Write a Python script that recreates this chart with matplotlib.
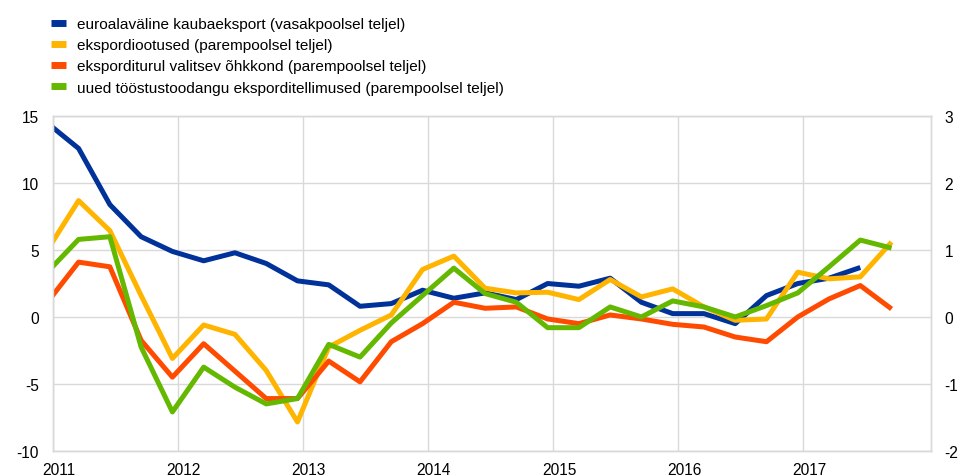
import numpy as np
import matplotlib
matplotlib.use("Agg")
import matplotlib.pyplot as plt
import matplotlib.transforms as mtransforms

plt.rcParams['font.family'] = ['Liberation Sans', 'DejaVu Sans']
plt.rcParams['axes.unicode_minus'] = False

# kvartalid 2011 Q1 ... 2017 Q4
quarters = np.arange(28)
years = [2011, 2012, 2013, 2014, 2015, 2016, 2017]

# euroalaväline kaubaeksport (vasak telg), lõpeb 2017 Q3
blue = [14.5, 12.6, 8.4, 6.0, 4.9, 4.2, 4.8, 4.0, 2.7, 2.4,
        0.8, 1.0, 2.0, 1.4, 1.8, 1.3, 2.5, 2.3, 2.9, 1.1,
        0.25, 0.25, -0.5, 1.6, 2.5, 2.9, 3.7]
# ekspordiootused (parem telg)
orange = [1.0, 1.74, 1.29, 0.32, -0.62, -0.12, -0.26, -0.80, -1.57, -0.45,
          -0.20, 0.03, 0.71, 0.91, 0.43, 0.36, 0.37, 0.26, 0.56, 0.30,
          0.42, 0.15, -0.05, -0.03, 0.67, 0.57, 0.60, 1.12]
# eksporditurul valitsev õhkkond (parem telg)
red = [0.22, 0.82, 0.75, -0.35, -0.90, -0.40, -0.81, -1.22, -1.22, -0.66,
       -0.97, -0.37, -0.10, 0.22, 0.13, 0.15, -0.03, -0.10, 0.03, -0.03,
       -0.11, -0.15, -0.30, -0.37, 0.0, 0.27, 0.47, 0.12]
# uued tööstustoodangu eksporditellimused (parem telg)
green = [0.67, 1.16, 1.20, -0.45, -1.42, -0.75, -1.05, -1.30, -1.22, -0.41,
         -0.60, -0.09, 0.32, 0.73, 0.35, 0.22, -0.16, -0.16, 0.15, 0.0,
         0.24, 0.15, 0.0, 0.17, 0.36, 0.75, 1.15, 1.03]

labels = ["euroalaväline kaubaeksport (vasakpoolsel teljel)",
          "ekspordiootused (parempoolsel teljel)",
          "eksporditurul valitsev õhkkond (parempoolsel teljel)",
          "uued tööstustoodangu eksporditellimused (parempoolsel teljel)"]
colors = ["#003299", "#FFB400", "#FF4B00", "#65B800"]

x = 2011 - 0.043 + 0.25 * quarters

fig = plt.figure(figsize=(9.6, 4.77), dpi=100)
ax = fig.add_axes([0.0549, 0.053, 0.9146, 0.701])
ax2 = ax.twinx()

lw = 3.6
l1, = ax.plot(x[:len(blue)], blue, color=colors[0], lw=lw, solid_capstyle='butt')
l2, = ax2.plot(x, orange, color=colors[1], lw=lw, solid_capstyle='butt')
l3, = ax2.plot(x, red, color=colors[2], lw=lw, solid_capstyle='butt')
l4, = ax2.plot(x, green, color=colors[3], lw=lw, solid_capstyle='butt')

ax.set_xlim(2011, 2018.02)
ax.set_ylim(-10, 15)
ax2.set_ylim(-2, 3)
ax.set_yticks(range(-10, 16, 5))
ax2.set_yticks(range(-2, 4))
ax.set_xticks(years)
ax.set_xticklabels([str(y) for y in years])

gc = "#d9d9d9"
ax.grid(True, color=gc, lw=1)
ax.set_axisbelow(True)
for a in (ax, ax2):
    for s in a.spines.values():
        s.set_color(gc)
        s.set_linewidth(1)
    a.tick_params(length=0, labelsize=11.2, colors='black')
ax.tick_params(axis='y', pad=10)
ax2.tick_params(axis='y', pad=10)
ax.tick_params(axis='x', pad=8)

offset = mtransforms.ScaledTranslation(6 / 100, 0, fig.dpi_scale_trans)
for lab in ax.get_xticklabels():
    lab.set_transform(lab.get_transform() + offset)

leg = fig.legend([l1, l2, l3, l4], labels, loc='upper left',
                 bbox_to_anchor=(0.04, 0.988), frameon=False,
                 fontsize=11.05, handlelength=1.0, handletextpad=0.7,
                 labelspacing=0.47, borderpad=0.3)
for h in leg.legend_handles:
    h.set_linewidth(5)

fig.savefig("out.png", dpi=100)
